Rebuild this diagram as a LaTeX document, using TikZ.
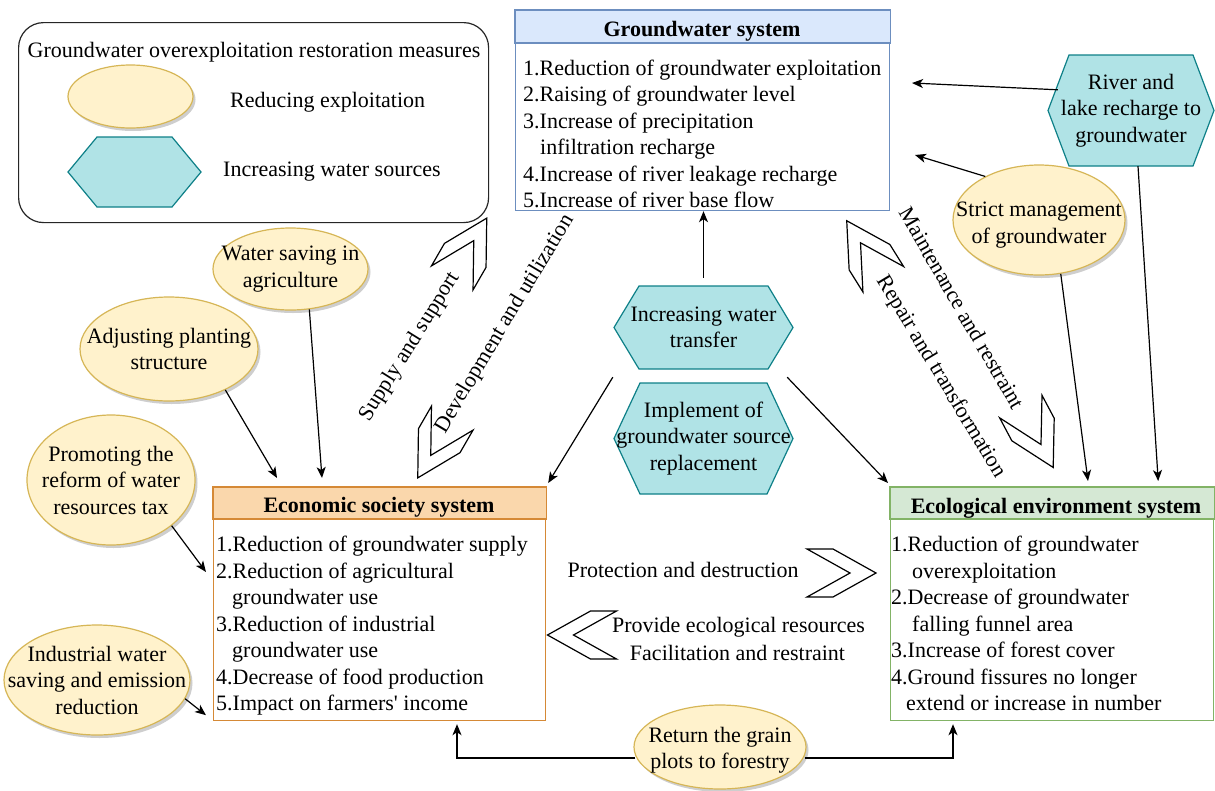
\documentclass[tikz,border=0pt]{standalone}
\usepackage{fontspec}
\setmainfont{Liberation Serif}
\usetikzlibrary{shapes.geometric,arrows.meta,calc,shadows}
\definecolor{ellfill}{HTML}{FFF2CC}
\definecolor{elldraw}{HTML}{D6B656}
\definecolor{hexfill}{HTML}{B0E3E6}
\definecolor{hexdraw}{HTML}{0E8088}
\definecolor{gwfill}{HTML}{DAE8FC}
\definecolor{gwdraw}{HTML}{6C8EBF}
\definecolor{ecofill}{HTML}{FAD7AC}
\definecolor{ecodraw}{HTML}{D58936}
\definecolor{ecolfill}{HTML}{D5E8D4}
\definecolor{ecoldraw}{HTML}{82B366}
\newcommand{\myhex}[7]{%
  \draw[hexline] ({#2-#4},{#3}) -- ({#2-#4+#6},{#3-#5}) -- ({#2+#4-#6},{#3-#5}) -- ({#2+#4},{#3}) -- ({#2+#4-#6},{#3+#5}) -- ({#2-#4+#6},{#3+#5}) -- cycle;
  \node[txt, minimum width={2*#4}, minimum height={2*#5}] (#1) at (#2,#3) {#7};}
\begin{document}
\begin{tikzpicture}[x=1pt,y=-1pt,
  every node/.style={font=\fontsize{22}{26.5}\selectfont},
  txt/.style={align=center, inner sep=0pt},
  basetxt/.style={anchor=base, inner sep=0pt},
  ell/.style={ellipse, draw=elldraw, fill=ellfill, line width=1.2pt, inner sep=0pt,
    drop shadow={shadow xshift=2.5pt, shadow yshift=-3pt, opacity=0.35, fill=black!55}},
  hexline/.style={draw=hexdraw, fill=hexfill, line width=1.2pt, line join=miter},
  arr/.style={-{Stealth[length=11pt,width=9pt,inset=3pt]}, line width=1.2pt},
  chevline/.style={draw=black, fill=white, line width=1.2pt, line join=miter},
  systitle/.style={font=\fontsize{22}{26.5}\selectfont\bfseries, inner sep=0pt, anchor=base},
  bodytext/.style={anchor=north west, align=left, inner sep=0pt},
  rlab/.style={inner sep=0pt},
  boxframe/.style={line width=1.2pt, minimum width=#1, anchor=north west, inner sep=0pt, fill=white},
  chev/.pic={\path[chevline] (-34.5,24) -- (-8.5,24) -- (34.5,0) -- (-8.5,-24) -- (-34.5,-24) -- (8.5,0) -- cycle;}
]
\fill[white] (0,0) rectangle (1215,790);
\useasboundingbox (0,0) rectangle (1215,790);

% legend
\node[draw=black!85, line width=1.2pt, rounded corners=25pt, minimum width=470, minimum height=200, anchor=north west, inner sep=0pt] (legend) at (18,22) {};
\node[basetxt] (legt) at (254,57) {Groundwater overexploitation restoration measures};
\node[ell, minimum width=125, minimum height=63] (legell) at (130.5,96.5) {};
\node[basetxt, anchor=base west] (legelltxt) at (230,107) {Reducing exploitation};
\myhex{leghex}{134.5}{172}{66.5}{35}{29}{}
\node[basetxt, anchor=base west] (leghextxt) at (223,176) {Increasing water sources};

% groundwater system
\node[boxframe=374, draw=gwdraw, minimum height=200] (gw) at (515,10) {};
\draw[draw=gwdraw, fill=gwfill, line width=1.2pt] (gw.north west) rectangle ($(gw.north east)+(0,33)$);
\node[systitle] (gwt) at (702,36) {Groundwater system};
\node[bodytext] (gwb) at (523,59.5) {1.Reduction of groundwater exploitation\\2.Raising of groundwater level\\3.Increase of precipitation\\\hspace*{17pt}infiltration recharge\\4.Increase of river leakage recharge\\5.Increase of river base flow};

% economic society system
\node[boxframe=332, draw=ecodraw, minimum height=233] (eco) at (213,487) {};
\draw[draw=ecodraw, fill=ecofill, line width=1.2pt] (eco.north west) rectangle ($(eco.north east)+(0,32)$);
\node[systitle] (ecot) at (379,512) {Economic society system};
\node[bodytext] (ecob) at (216,536) {1.Reduction of groundwater supply\\2.Reduction of agricultural\\\hspace*{16pt}groundwater use\\3.Reduction of industrial\\\hspace*{16pt}groundwater use\\4.Decrease of food production\\5.Impact on farmers\textquotesingle\ income};

% ecological environment system
\node[boxframe=323, draw=ecoldraw, minimum height=233] (ecol) at (890,487) {};
\draw[draw=ecoldraw, fill=ecolfill, line width=1.2pt] (ecol.north west) rectangle ($(ecol.north east)+(0,32)$);
\node[systitle] (ecolt) at (1056,513) {Ecological environment system};
\node[bodytext] (ecolb) at (891,536) {1.Reduction of groundwater\\\hspace*{21pt}overexploitation\\2.Decrease of groundwater\\\hspace*{21pt}falling funnel area\\3.Increase of forest cover\\4.Ground fissures no longer\\\hspace*{15pt}extend or increase in number};

% hexagons
\myhex{transfer}{703.5}{327.5}{89.5}{41.5}{25}{Increasing water\\transfer}
\myhex{replace}{703.5}{438.5}{89.5}{55.5}{26}{Implement of\\groundwater source\\replacement}
\myhex{river}{1131}{110.5}{83}{55.5}{21}{River and\\lake recharge to\\groundwater}

% ellipses
\node[ell, minimum width=172, minimum height=110, label={[txt, yshift=-5pt]center:{Strict management\\of groundwater}}] (strict) at (1039,220) {};
\node[ell, minimum width=155, minimum height=82, label={[txt]center:{Water saving in\\agriculture}}] (water) at (290.5,269) {};
\node[ell, minimum width=178, minimum height=104, label={[txt]center:{Adjusting planting\\structure}}] (adjust) at (169,349) {};
\node[ell, minimum width=168, minimum height=130, label={[txt]center:{Promoting the\\reform of water\\resources tax}}] (promote) at (111,480) {};
\node[ell, minimum width=186, minimum height=110, label={[txt]center:{Industrial water\\saving and emission\\reduction}}] (ind) at (97,680) {};
\node[ell, minimum width=172, minimum height=84, label={[txt, yshift=-3pt]center:{Return the grain\\plots to forestry}}] (ret) at (720,747) {};

% chevrons
\pic[rotate=60] at (469.5,248) {chev};
\pic[rotate=240] at (435,448) {chev};
\pic[rotate=122] at (865,250) {chev};
\pic[rotate=-62] at (1037,437) {chev};
\pic at (841.5,573) {chev};
\pic[rotate=180] at (582,635) {chev};

% relation labels
\node[rlab, rotate=58] (supply) at (410,347) {Supply and support};
\node[rlab, rotate=59] (devel) at (505,324) {Development and utilization};
\node[rlab, rotate=-60] (maint) at (962,308) {Maintenance and restraint};
\node[rlab, rotate=-59] (repair) at (941,377) {Repair and transformation};
\node[basetxt] (protect) at (683,577) {Protection and destruction};
\node[basetxt] (provide) at (738.5,632) {Provide ecological resources};
\node[basetxt] (facil) at (737.5,660) {Facilitation and restraint};

% free arrow ends
\coordinate (gwin1) at (912,83);
\coordinate (gwin2) at (915,155);

% connectors
\draw[arr] ($(transfer.north)+(0,-8)$) -- (gw.south -| transfer.north);
\draw[arr] ($(transfer.south west)+(-1,8)$) -- ($(eco.north east)+(2,-4)$);
\draw[arr] ($(transfer.south east)+(-6,8)$) -- ($(ecol.north west)+(-2,-4)$);
\draw[arr] ($(river.north west)+(10,35)$) -- (gwin1);
\draw[arr] (strict.141) -- (gwin2);
\draw[arr] ($(river.south)+(7,0)$) -- ($(ecol.north east)+(-56,-6)$);
\draw[arr] (strict.-68) -- ($(ecol.north west)+(198,-6)$);
\draw[arr] (water.-65) -- ($(eco.north west)+(109,-9)$);
\draw[arr] (adjust.-36) -- ($(eco.north west)+(64,-9)$);
\draw[arr] (promote.-37) -- ($(eco.north west)+(-7,85)$);
\draw[arr] (ind.-12) -- ($(eco.south west)+(-7,-6)$);
\draw[arr] ($(ret.west)+(2,11)$) -| ($(eco.south west)+(244,3)$);
\draw[arr] ($(ret.east)+(-2,11)$) -| ($(ecol.south west)+(63,3)$);
\end{tikzpicture}
\end{document}
